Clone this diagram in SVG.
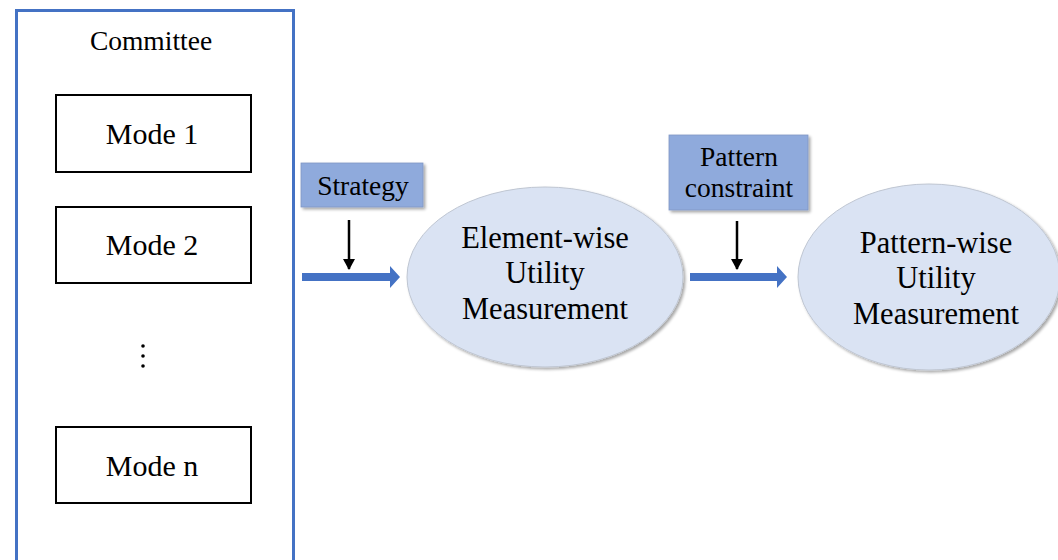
<svg xmlns="http://www.w3.org/2000/svg" width="1058" height="560" viewBox="0 0 1058 560">
  <defs>
    <filter id="shadow" x="-20%" y="-20%" width="140%" height="140%">
      <feGaussianBlur in="SourceAlpha" stdDeviation="1.5"/>
      <feOffset dx="2" dy="2" result="off"/>
      <feComponentTransfer><feFuncA type="linear" slope="0.35"/></feComponentTransfer>
      <feMerge><feMergeNode/><feMergeNode in="SourceGraphic"/></feMerge>
    </filter>
    <marker id="blackHead" markerWidth="12" markerHeight="12" refX="10" refY="6" orient="auto" markerUnits="userSpaceOnUse" viewBox="0 0 12 12">
      <path d="M0,0 L11,6 L0,12 Z" fill="#000"/>
    </marker>
  </defs>
  <style>
    text { font-family: "Liberation Serif", "Times New Roman", serif; fill: #000; text-anchor: middle; }
    .mode { fill: #fff; stroke: #000; stroke-width: 2; }
    .modeText { font-size: 30px; }
    .label { fill: #8FAADC; stroke: #7F97C4; stroke-width: 0.8; filter: url(#shadow); }
    .labelText { font-size: 27.5px; }
    .oval { fill: #DAE3F3; stroke: #BFC6D2; stroke-width: 1; filter: url(#shadow); }
    .ovalText { font-size: 30.5px; }
    .flow { fill: #4472C4; }
    .feed { stroke: #000; stroke-width: 2.5; fill: none; }
  </style>

  <rect width="1058" height="560" fill="#fff"/>

  <!-- committee container -->
  <g id="committee">
    <rect x="16.5" y="10.5" width="277" height="560" fill="#fff" stroke="#4472C4" stroke-width="3"/>
    <text x="151" y="50" font-size="27.5">Committee</text>
  </g>

  <g id="mode1">
    <rect class="mode" x="56" y="95" width="195" height="77"/>
    <text class="modeText" x="152" y="144">Mode 1</text>
  </g>
  <g id="mode2">
    <rect class="mode" x="56" y="207" width="195" height="76"/>
    <text class="modeText" x="152" y="255">Mode 2</text>
  </g>
  <g id="ellipsis">
    <circle cx="143" cy="346" r="1.8" fill="#000"/>
    <circle cx="143" cy="356" r="1.8" fill="#000"/>
    <circle cx="143" cy="366" r="1.8" fill="#000"/>
  </g>
  <g id="modeN">
    <rect class="mode" x="56" y="427" width="195" height="76"/>
    <text class="modeText" x="152" y="476">Mode n</text>
  </g>

  <g id="strategy">
    <rect class="label" x="301" y="163" width="122" height="44"/>
    <text class="labelText" x="363" y="195">Strategy</text>
  </g>

  <g id="patternConstraint">
    <rect class="label" x="669" y="135" width="139" height="75"/>
    <text class="labelText" x="739" y="166">Pattern</text>
    <text class="labelText" x="739" y="197">constraint</text>
  </g>

  <g id="elementWise">
    <ellipse class="oval" cx="545" cy="277" rx="138" ry="90"/>
    <text class="ovalText" x="545" y="248">Element-wise</text>
    <text class="ovalText" x="545" y="283">Utility</text>
    <text class="ovalText" x="545" y="319">Measurement</text>
  </g>

  <g id="patternWise">
    <ellipse class="oval" cx="929" cy="277" rx="131" ry="93"/>
    <text class="ovalText" x="936" y="253">Pattern-wise</text>
    <text class="ovalText" x="936" y="288">Utility</text>
    <text class="ovalText" x="936" y="324">Measurement</text>
  </g>

  <!-- connectors -->
  <g id="connectors">
    <path class="flow" d="M302,273 L390,273 L390,266 L400,277 L390,288 L390,281 L302,281 Z"/>
    <path class="flow" d="M690,273 L777,273 L777,266 L787,277 L777,288 L777,281 L690,281 Z"/>
    <line class="feed" x1="349" y1="220" x2="349" y2="269" marker-end="url(#blackHead)"/>
    <line class="feed" x1="737" y1="221" x2="737" y2="269" marker-end="url(#blackHead)"/>
  </g>
</svg>
